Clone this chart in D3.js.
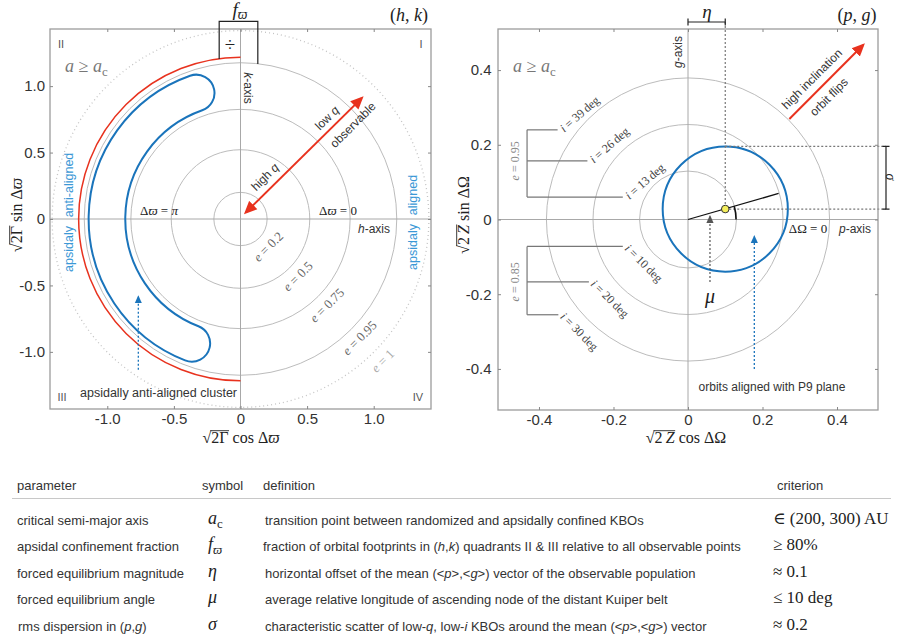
<!DOCTYPE html>
<html><head><meta charset="utf-8">
<script src="https://cdn.jsdelivr.net/npm/d3@7"></script>
<style>body{margin:0;background:#fff}svg{display:block}</style>
</head><body>
<script>
// ---------------- data ----------------
const eccLabels = ["0.2", "0.5", "0.75", "0.95", "1"];
const eccRadii = [0.2, 0.52, 0.823, 1.173, 1.414];
const hkTicks = [-1.0, -0.5, 0, 0.5, 1.0];
const hkTickLabels = ["-1.0", "-0.5", "0", "0.5", "1.0"];
const confinementArcRadius = 1.215;
const clusterRadii = [0.865, 1.14];          // inner / outer edge of cluster footprint
const clusterAngles = [256.5, 101.5];         // degrees, counter-clockwise from +h
const pgTicks = [-0.4, -0.2, 0, 0.2, 0.4];
const pgTickLabels = ["-0.4", "-0.2", "0", "0.2", "0.4"];
const inclRadii = [0.13, 0.255, 0.38];
const incl95Labels = ["39", "26", "13"];
const incl95Levels = [0.24, 0.157, 0.06];
const incl95Ends = [-0.35, -0.27, -0.175];
const incl85Labels = ["10", "20", "30"];
const incl85Levels = [-0.072, -0.167, -0.255];
const incl85Ends = [-0.175, -0.266, -0.348];
const bracketX = -0.432;
const meanPG = [0.1, 0.028];
const sigmaR = 0.168;
const muDeg = 16;
const muLineLen = 0.253;

const tableHeaders = ["parameter", "symbol", "definition", "criterion"];
const tableParams = ["critical semi-major axis", "apsidal confinement fraction", "forced equilibrium magnitude", "forced equilibrium angle", "rms dispersion in (*p*,*g*)"];
const tableSymbols = ["*a*{c}", "*f*{*ϖ*}", "*η*", "*μ*", "*σ*"];
const tableDefs = [
  "transition point between randomized and apsidally confined KBOs",
  "fraction of orbital footprints in (*h*,*k*) quadrants II & III relative to all observable points",
  "horizontal offset of the mean (<*p*>,<*g*>) vector of the observable population",
  "average relative longitude of ascending node of the distant Kuiper belt",
  "characteristic scatter of low-*q*, low-*i* KBOs around the mean (<*p*>,<*g*>) vector"];
const tableCriteria = ["∈ (200, 300) AU", "≥ 80%", "≈ 0.1", "≤ 10 deg", "≈ 0.2"];

// ---------------- setup ----------------
const W = 898, H = 644;
const SANS = "'Liberation Sans', Arial, Helvetica, sans-serif";
const SERIF = "'Liberation Serif', 'DejaVu Serif', 'Times New Roman', serif";
const GRID = "#bcbcbc", AXC = "#a8a8a8", TXT = "#333", RED = "#e8321e", BLUE = "#1a74bb", LBLUE = "#3b98d6";
const svg = d3.select("body").append("svg").attr("width", W).attr("height", H);

const defs = svg.append("defs");
function marker(id, color, size) {
  defs.append("marker").attr("id", id).attr("viewBox", "0 0 10 10").attr("refX", 8).attr("refY", 5)
    .attr("markerUnits", "userSpaceOnUse").attr("markerWidth", size).attr("markerHeight", size)
    .attr("orient", "auto-start-reverse")
    .append("path").attr("d", "M0,0.5 L10,5 L0,9.5 Z").attr("fill", color);
}
marker("redHead", RED, 13);
marker("blueHead", BLUE, 8);
marker("grayHead", "#555", 8);

// rich text: *italic*, {subscript}
function rich(t, str, fs) {
  const parts = str.split(/(\*[^*]+\*|\{[^}]+\})/).filter(s => s.length);
  let sub = false;
  parts.forEach(p => {
    if (p[0] === "{") {
      let c = p.slice(1, -1), it = false;
      if (c[0] === "*") { c = c.slice(1, -1); it = true; }
      t.append("tspan").attr("font-size", fs * 0.72).attr("dy", fs * 0.28)
        .attr("font-style", it ? "italic" : "normal").text(c);
      sub = true;
    } else {
      const ts = t.append("tspan");
      if (sub) { ts.attr("dy", -fs * 0.28); sub = false; }
      if (p[0] === "*") ts.attr("font-style", "italic").text(p.slice(1, -1));
      else ts.text(p);
    }
  });
  return t;
}
function label(g, x, y, str, o = {}) {
  const fs = o.size || 12;
  const t = g.append("text").attr("x", x).attr("y", y)
    .attr("font-family", o.family || SANS).attr("font-size", fs)
    .attr("fill", o.color || TXT).attr("text-anchor", o.anchor || "middle")
    .attr("dominant-baseline", "central");
  if (o.rot !== undefined) t.attr("transform", `rotate(${o.rot},${x},${y})`);
  rich(t, str, fs);
  return t;
}
function sqrtLabel(cx, cy, rot, radicand, rest) {
  const g = svg.append("g").attr("transform", `translate(${cx},${cy}) rotate(${rot})`);
  const t = g.append("text").attr("font-family", SERIF).attr("font-size", 16).attr("fill", "#222")
    .attr("text-anchor", "middle").attr("dominant-baseline", "central");
  t.append("tspan").text("√");
  let n = 0;
  radicand.forEach(([s, it]) => { t.append("tspan").attr("font-style", it ? "italic" : "normal").text(s); n += s.length; });
  rest.forEach(([s, it]) => { t.append("tspan").attr("font-style", it ? "italic" : "normal").text(s); });
  const node = t.node();
  const x0 = node.getEndPositionOfChar(0).x - 1;
  const x1 = node.getEndPositionOfChar(n).x + 0.5;
  const bb = node.getBBox();
  g.append("line").attr("x1", x0).attr("x2", x1).attr("y1", bb.y + 2.2).attr("y2", bb.y + 2.2)
    .attr("stroke", "#222").attr("stroke-width", 0.9);
}
function styleAxis(sel, fs) {
  sel.select(".domain").remove();
  sel.selectAll(".tick line").attr("stroke", "#888");
  sel.selectAll(".tick text").attr("font-family", SANS).attr("font-size", fs).attr("fill", TXT);
}

// ================= LEFT PANEL (h,k) =================
const gL = svg.append("g");
const xL = d3.scaleLinear().domain([-1.43, 1.43]).range([50, 431]);
const yL = d3.scaleLinear().domain([-1.43, 1.43]).range([409, 29]);
const kL = xL(1) - xL(0), cxL = xL(0), cyL = yL(0);

gL.selectAll("circle.ecc").data(eccRadii).join("circle").attr("class", "ecc")
  .attr("cx", cxL).attr("cy", cyL).attr("r", d => d * kL).attr("fill", "none")
  .attr("stroke", (d, i) => i === eccRadii.length - 1 ? "#c4c4c4" : GRID)
  .attr("stroke-width", (d, i) => i === eccRadii.length - 1 ? 1.3 : 1)
  .attr("stroke-dasharray", (d, i) => i === eccRadii.length - 1 ? "1,3" : null);

gL.append("line").attr("x1", xL(-1.43)).attr("x2", xL(1.43)).attr("y1", cyL).attr("y2", cyL).attr("stroke", AXC);
gL.append("line").attr("x1", cxL).attr("x2", cxL).attr("y1", yL(1.43)).attr("y2", yL(-1.43)).attr("stroke", AXC);

// confinement arc (red)
const arcP = d3.path();
arcP.arc(cxL, cyL, confinementArcRadius * kL, -Math.PI / 2, Math.PI / 2, true);
gL.append("path").attr("d", arcP.toString()).attr("fill", "none").attr("stroke", RED).attr("stroke-width", 1.5);

// cluster footprint (blue)
const toD3 = a => (90 - a) * Math.PI / 180;
const cl = d3.arc().innerRadius(clusterRadii[0] * kL).outerRadius(clusterRadii[1] * kL)
  .startAngle(toD3(clusterAngles[0])).endAngle(toD3(clusterAngles[1]))
  .cornerRadius((clusterRadii[1] - clusterRadii[0]) / 2 * kL);
gL.append("path").attr("d", cl()).attr("transform", `translate(${cxL},${cyL})`)
  .attr("fill", "none").attr("stroke", BLUE).attr("stroke-width", 2);

// frame & axes
gL.append("rect").attr("x", 50).attr("y", 29).attr("width", 381).attr("height", 380)
  .attr("fill", "none").attr("stroke", "#9c9c9c").attr("stroke-width", 1.3);
gL.append("g").attr("transform", "translate(0,409)")
  .call(d3.axisBottom(xL).tickValues(hkTicks).tickFormat((d, i) => hkTickLabels[i]).tickSizeInner(-3).tickSizeOuter(0).tickPadding(4))
  .call(s => styleAxis(s, 15));
gL.append("g").attr("transform", "translate(50,0)")
  .call(d3.axisLeft(yL).tickValues(hkTicks).tickFormat((d, i) => hkTickLabels[i]).tickSizeInner(-3).tickSizeOuter(0).tickPadding(5))
  .call(s => styleAxis(s, 15));
gL.append("g").attr("transform", "translate(0,29)")
  .call(d3.axisTop(xL).tickValues(hkTicks).tickFormat("").tickSizeInner(-3).tickSizeOuter(0)).call(s => styleAxis(s, 15));
gL.append("g").attr("transform", "translate(431,0)")
  .call(d3.axisRight(yL).tickValues(hkTicks).tickFormat("").tickSizeInner(-3).tickSizeOuter(0)).call(s => styleAxis(s, 15));

// double red arrow
gL.append("line").attr("x1", xL(0.04)).attr("y1", yL(0.05)).attr("x2", xL(0.91)).attr("y2", yL(0.91))
  .attr("stroke", RED).attr("stroke-width", 2).attr("marker-start", "url(#redHead)").attr("marker-end", "url(#redHead)");
// blue dotted arrow
gL.append("line").attr("x1", xL(-0.767)).attr("y1", yL(-1.134)).attr("x2", xL(-0.767)).attr("y2", yL(-0.586))
  .attr("stroke", BLUE).attr("stroke-width", 1.3).attr("stroke-dasharray", "2,2").attr("marker-end", "url(#blueHead)");

// f_varpi bracket
const fx0 = xL(-0.16), fx1 = xL(0.13), fyTop = 21.3;
gL.append("path").attr("d",
  `M${fx0},${yL(Math.sqrt(confinementArcRadius ** 2 - 0.16 ** 2))}V${fyTop}H${fx1}V${yL(Math.sqrt(eccRadii[3] ** 2 - 0.13 ** 2))}`)
  .attr("fill", "none").attr("stroke", "#222").attr("stroke-width", 1.2);
label(gL, 230, 44, "÷", { size: 19, color: "#222", family: SERIF });
label(gL, 240, 9, "*f*{*ϖ*}", { size: 19, color: "#222", family: SERIF });
label(gL, 409, 15, "(*h*, *k*)", { size: 18, color: "#222", family: SERIF });

// quadrant labels
label(gL, 61, 44, "II", { size: 11, color: "#555" });
label(gL, 421, 44, "I", { size: 11, color: "#555" });
label(gL, 62, 397, "III", { size: 11, color: "#555" });
label(gL, 418, 397, "IV", { size: 11, color: "#555" });
label(gL, 65, 66, "*a* ≥ *a*{c}", { size: 18, color: "#777", family: SERIF, anchor: "start" });

// axis names
label(gL, 248, 88, "*k*-axis", { size: 12, rot: 90 });
label(gL, 374, 229, "*h*-axis", { size: 12 });
label(gL, 159, 210, "Δ*ϖ* = *π*", { size: 13, family: SERIF, color: "#222" });
label(gL, 338, 210, "Δ*ϖ* = 0", { size: 13, family: SERIF, color: "#222" });

// arrow text
label(gL, 265, 177, "high *q*", { size: 12, rot: -45 });
label(gL, 327, 118, "low *q*", { size: 12, rot: -45 });
label(gL, 353, 125, "observable", { size: 12, rot: -45 });

// eccentricity labels
const eLabR = [0.29, 0.605, 0.913, 1.26, 1.505];
eccLabels.forEach((s, i) => {
  const r = eLabR[i] / Math.SQRT2;
  label(gL, xL(r), yL(-r), `*e* = ${s}`, { size: 13, family: SERIF, rot: -45, color: i === 4 ? "#aaa" : "#666" });
});

// apsidal labels
label(gL, 69, 185, "anti-aligned", { size: 12.5, rot: -90, color: LBLUE });
label(gL, 69, 249, "apsidaly", { size: 12.5, rot: -90, color: LBLUE });
label(gL, 412.5, 195, "aligned", { size: 12.5, rot: -90, color: LBLUE });
label(gL, 412.5, 247, "apsidaly", { size: 12.5, rot: -90, color: LBLUE });
label(gL, 80, 393, "apsidally anti-aligned cluster", { size: 12.5, anchor: "start" });

sqrtLabel(16, 215, -90, [["2Γ", false]], [[" sin Δ", false], ["ϖ", true]]);
sqrtLabel(241, 437, 0, [["2Γ", false]], [[" cos Δ", false], ["ϖ", true]]);

// ================= RIGHT PANEL (p,g) =================
const gR = svg.append("g");
const xR = d3.scaleLinear().domain([-0.51, 0.51]).range([498, 878]);
const yR = d3.scaleLinear().domain([-0.51, 0.51]).range([410, 29]);
const kR = xR(1) - xR(0), cxR = xR(0), cyR = yR(0);

gR.selectAll("circle.inc").data(inclRadii).join("circle").attr("class", "inc")
  .attr("cx", cxR).attr("cy", cyR).attr("r", d => d * kR).attr("fill", "none").attr("stroke", GRID);
gR.append("line").attr("x1", xR(-0.51)).attr("x2", xR(0.51)).attr("y1", cyR).attr("y2", cyR).attr("stroke", AXC);
gR.append("line").attr("x1", cxR).attr("x2", cxR).attr("y1", yR(0.51)).attr("y2", yR(-0.51)).attr("stroke", AXC);

// inclination brackets
function bracket(levels, ends, labels, rot) {
  gR.append("line").attr("x1", xR(bracketX)).attr("x2", xR(bracketX))
    .attr("y1", yR(levels[0])).attr("y2", yR(levels[2])).attr("stroke", "#777").attr("stroke-width", 1.2);
  levels.forEach((lv, i) => {
    gR.append("line").attr("x1", xR(bracketX)).attr("x2", xR(ends[i])).attr("y1", yR(lv)).attr("y2", yR(lv))
      .attr("stroke", "#777").attr("stroke-width", 1.2);
    label(gR, xR(ends[i]) + 4, yR(lv), `*i* = ${labels[i]}\u2009deg`, { size: 12, family: SERIF, rot, anchor: "start", color: "#444" });
  });
}
bracket(incl95Levels, incl95Ends, incl95Labels, -41);
bracket(incl85Levels, incl85Ends, incl85Labels, 45);
label(gR, 515, yR(incl95Levels[1]), "*e* = 0.95", { size: 12, family: SERIF, rot: -90, color: "#888" });
label(gR, 515, yR(incl85Levels[1]), "*e* = 0.85", { size: 12, family: SERIF, rot: -90, color: "#888" });

// blue dispersion circle
const mx = xR(meanPG[0]), my = yR(meanPG[1]);
gR.append("circle").attr("cx", mx).attr("cy", my).attr("r", sigmaR * kR)
  .attr("fill", "none").attr("stroke", BLUE).attr("stroke-width", 2);

// dotted guides
const dot = { stroke: "#777", "stroke-width": 1.2, "stroke-dasharray": "2,2" };
function dl(x1, y1, x2, y2) {
  const l = gR.append("line").attr("x1", x1).attr("y1", y1).attr("x2", x2).attr("y2", y2);
  Object.entries(dot).forEach(([k, v]) => l.attr(k, v));
  return l;
}
dl(mx, 22, mx, my - 4);
dl(mx, yR(meanPG[1] + sigmaR), 886, yR(meanPG[1] + sigmaR));
dl(mx + 4, my, 886, my);

// mu line & arc
const mr = muDeg * Math.PI / 180;
gR.append("line").attr("x1", cxR).attr("y1", cyR)
  .attr("x2", xR(muLineLen * Math.cos(mr))).attr("y2", yR(muLineLen * Math.sin(mr)))
  .attr("stroke", "#111").attr("stroke-width", 1.3);
const ap = d3.path();
ap.arc(cxR, cyR, 0.129 * kR, 0, -mr, true);
gR.append("path").attr("d", ap.toString()).attr("fill", "none").attr("stroke", "#111").attr("stroke-width", 1.6);
gR.append("circle").attr("cx", mx).attr("cy", my).attr("r", 3.8).attr("fill", "#f4ee5c").attr("stroke", "#333").attr("stroke-width", 1);

// eta bracket
gR.append("path").attr("d", `M${cxR},18.5V25.5M${cxR},22H${mx}M${mx},18.5V25.5`)
  .attr("stroke", "#222").attr("stroke-width", 1.2).attr("fill", "none");
label(gR, 707, 11, "*η*", { size: 19, family: SERIF, color: "#222" });
// sigma bracket
gR.append("path").attr("d", `M882.5,${yR(meanPG[1] + sigmaR)}H889.5M886,${yR(meanPG[1] + sigmaR)}V${my}M882.5,${my}H889.5`)
  .attr("stroke", "#222").attr("stroke-width", 1.2).attr("fill", "none");
label(gR, 890.5, 177, "*σ*", { size: 14, family: SERIF, color: "#222", rot: 90 });

// mu arrow
gR.append("line").attr("x1", xR(0.059)).attr("y1", yR(-0.167)).attr("x2", xR(0.059)).attr("y2", yR(0.008))
  .attr("stroke", "#555").attr("stroke-width", 1.2).attr("stroke-dasharray", "2,2").attr("marker-end", "url(#grayHead)");
label(gR, 710, 296, "*μ*", { size: 20, family: SERIF, color: "#222" });

// blue arrow
gR.append("line").attr("x1", xR(0.178)).attr("y1", yR(-0.4)).attr("x2", xR(0.178)).attr("y2", yR(-0.046))
  .attr("stroke", BLUE).attr("stroke-width", 1.3).attr("stroke-dasharray", "2,2").attr("marker-end", "url(#blueHead)");
label(gR, 772, 387, "orbits aligned with P9 plane", { size: 12 });

// red arrow
gR.append("line").attr("x1", xR(0.272)).attr("y1", yR(0.269)).attr("x2", xR(0.47)).attr("y2", yR(0.467))
  .attr("stroke", RED).attr("stroke-width", 2).attr("marker-end", "url(#redHead)");
label(gR, 812, 79, "high inclination", { size: 12, rot: -45 });
label(gR, 829, 97, "orbit flips", { size: 12, rot: -45 });

// frame & axes
gR.append("rect").attr("x", 498).attr("y", 29).attr("width", 380).attr("height", 381)
  .attr("fill", "none").attr("stroke", "#9c9c9c").attr("stroke-width", 1.3);
gR.append("g").attr("transform", "translate(0,410)")
  .call(d3.axisBottom(xR).tickValues(pgTicks).tickFormat((d, i) => pgTickLabels[i]).tickSizeInner(-3).tickSizeOuter(0).tickPadding(4))
  .call(s => styleAxis(s, 15));
gR.append("g").attr("transform", "translate(498,0)")
  .call(d3.axisLeft(yR).tickValues(pgTicks).tickFormat((d, i) => pgTickLabels[i]).tickSizeInner(-3).tickSizeOuter(0).tickPadding(6.5))
  .call(s => styleAxis(s, 15));
gR.append("g").attr("transform", "translate(0,29)")
  .call(d3.axisTop(xR).tickValues(pgTicks).tickFormat("").tickSizeInner(-3).tickSizeOuter(0)).call(s => styleAxis(s, 15));
gR.append("g").attr("transform", "translate(878,0)")
  .call(d3.axisRight(yR).tickValues(pgTicks).tickFormat("").tickSizeInner(-3).tickSizeOuter(0)).call(s => styleAxis(s, 15));

label(gR, 857, 15, "(*p*, *g*)", { size: 18, color: "#222", family: SERIF });
label(gR, 513, 66, "*a* ≥ *a*{c}", { size: 18, color: "#777", family: SERIF, anchor: "start" });
label(gR, 678, 52, "*g*-axis", { size: 12, rot: -90 });
label(gR, 855, 229, "*p*-axis", { size: 12 });
label(gR, 808, 228, "ΔΩ = 0", { size: 13, family: SERIF, color: "#222" });

sqrtLabel(463, 215, -90, [["2\u2009", false], ["Z", true]], [[" sin ΔΩ", false]]);
sqrtLabel(686, 437, 0, [["2\u2009", false], ["Z", true]], [[" cos ΔΩ", false]]);

// ================= TABLE =================
const gT = svg.append("g");
const colX = [17, 202, 263, 777];
tableHeaders.forEach((h, i) => label(gT, colX[i], 485, h, { size: 13, anchor: "start" }));
gT.append("line").attr("x1", 12).attr("x2", 891).attr("y1", 498.5).attr("y2", 498.5).attr("stroke", "#c8c8c8").attr("stroke-width", 1.2);
const rowY = d3.scalePoint().domain(d3.range(tableParams.length)).range([519.5, 625.5]);
tableParams.forEach((p, i) => {
  const y = rowY(i);
  label(gT, i === 4 ? 18 : 17, y, p, { size: 13, anchor: "start" });
  label(gT, 208, y - 2, tableSymbols[i], { size: 18, anchor: "start", family: SERIF, color: "#222" });
  label(gT, i === 1 ? 263 : 265, y, tableDefs[i], { size: 13, anchor: "start" });
  label(gT, 773, y - 2, tableCriteria[i], { size: 17, anchor: "start", family: SERIF, color: "#222" });
});
</script>
</body></html>
